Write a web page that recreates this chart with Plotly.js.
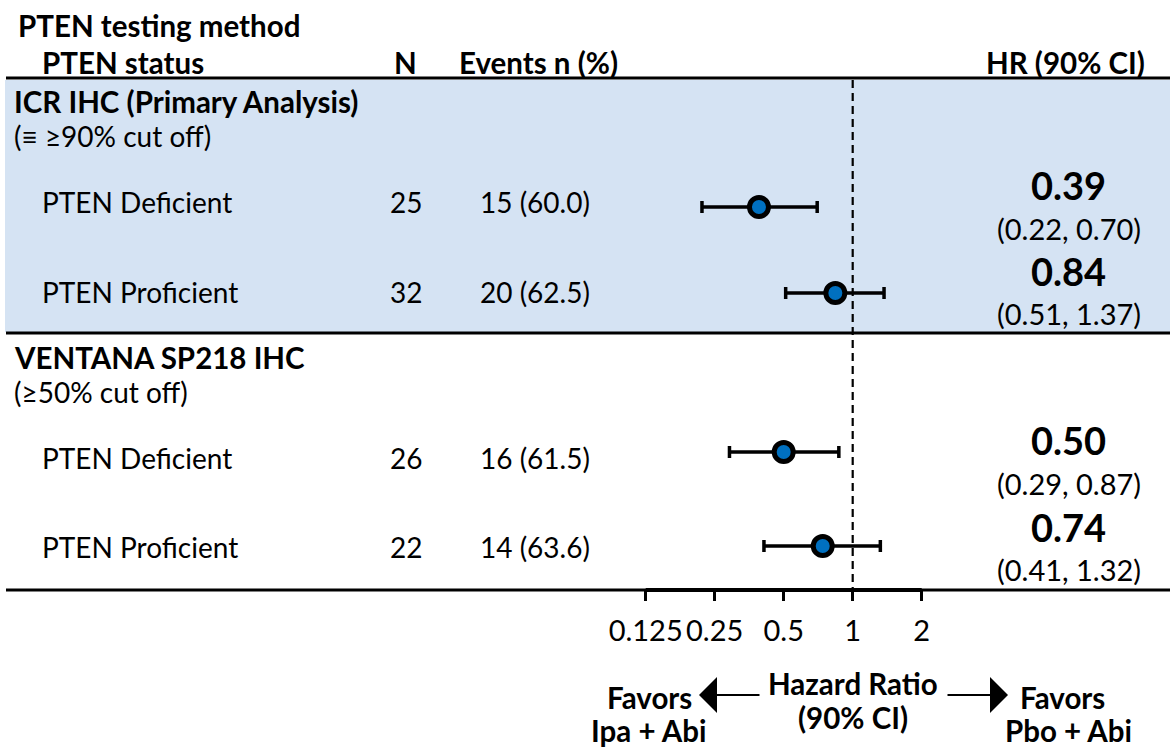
<!DOCTYPE html>
<html>
<head>
<meta charset="utf-8">
<script src="https://cdn.plot.ly/plotly-3.0.1.min.js"></script>
<style>html,body{margin:0;padding:0;background:#fff;}#chart{width:1170px;height:748px;}</style>
</head>
<body>
<div id="chart"></div>
<script>
// ---- data ----
var methods = ["ICR IHC (Primary Analysis)", "VENTANA SP218 IHC"];
var methodNotes = ["(\u2261 \u226590% cut off)", "(\u226550% cut off)"];
var statuses = ["PTEN Deficient", "PTEN Proficient", "PTEN Deficient", "PTEN Proficient"];
var nValues = [25, 32, 26, 22];
var events = [15, 20, 16, 14];
var eventPct = ["60.0", "62.5", "61.5", "63.6"];
var hr = [0.39, 0.84, 0.50, 0.74];
var ciLow = [0.22, 0.51, 0.29, 0.41];
var ciHigh = [0.70, 1.37, 0.87, 1.32];
var tickVals = [0.125, 0.25, 0.5, 1, 2];
var tickLabels = ["0.125", "0.25", "0.5", "1", "2"];

// ---- layout geometry (pixels) ----
var W = 1170, H = 748;
var FONT = "Lato, 'Open Sans', sans-serif";
var pointY = [207, 293, 452, 546];
var textY = [202, 292, 458, 547];
var hrY = [185, 271, 440, 527];
var ciY = [228, 313, 483, 569];
var methodY = [101, 357];
var noteY = [136, 392];
var pxPerDoubling = 69, onePx = 852.7;
var xr0 = -onePx / pxPerDoubling * Math.LOG10E * Math.LN2;
var xr1 = (W - onePx) / pxPerDoubling * Math.LOG10E * Math.LN2;
function P(px) { return px / W; }

var fs = 28, fb = 29.5;
var ann = [];
function txt(text, x, y, anchor, size, bold) {
  ann.push({text: bold ? "<b>" + text + "</b>" : text, xref: "paper", yref: "y", x: P(x), y: y,
    xanchor: anchor, yanchor: "middle", showarrow: false, borderpad: 0,
    font: {family: FONT, size: size, color: "#000"}});
}
txt("PTEN testing method", 17, 25, "left", fb, true);
txt("PTEN status", 41, 62, "left", fb, true);
txt("N", 405, 62, "center", fb, true);
txt("Events n (%)", 458, 62, "left", fb, true);
txt("HR (90% CI)", 1146, 62, "right", fb, true);
for (var m = 0; m < methods.length; m++) {
  txt(methods[m], 13, methodY[m], "left", fb, true);
  txt(methodNotes[m], 13, noteY[m], "left", fs, false);
}
for (var i = 0; i < statuses.length; i++) {
  txt(statuses[i], 41, textY[i], "left", fs, false);
  txt(String(nValues[i]), 406, textY[i], "center", fs, false);
  txt(events[i] + " (" + eventPct[i] + ")", 479, textY[i], "left", fs, false);
  txt(hr[i].toFixed(2), 1068, hrY[i], "center", 38, true);
  txt("(" + ciLow[i].toFixed(2) + ", " + ciHigh[i].toFixed(2) + ")", 1069, ciY[i], "center", 29, false);
}
txt("Hazard Ratio", 853, 683, "center", fb, true);
txt("(90% CI)", 853, 717, "center", fb, true);
txt("Favors", 649, 697, "center", fb, true);
txt("Ipa + Abi", 648, 730, "center", fb, true);
txt("Favors", 1062, 697, "center", fb, true);
txt("Pbo + Abi", 1068, 730, "center", fb, true);
// arrows
ann.push({text: "", xref: "paper", yref: "y", x: P(699), y: 695, ax: 62, ay: 0, axref: "pixel", ayref: "pixel",
  showarrow: true, arrowhead: 1, arrowsize: 3, arrowwidth: 2, arrowcolor: "#000"});
ann.push({text: "", xref: "paper", yref: "y", x: P(1008), y: 695, ax: -62, ay: 0, axref: "pixel", ayref: "pixel",
  showarrow: true, arrowhead: 1, arrowsize: 3, arrowwidth: 2, arrowcolor: "#000"});

var shapes = [
  {type: "rect", xref: "paper", yref: "y", x0: P(5), x1: 1, y0: 80, y1: 332, fillcolor: "#D5E3F3", line: {width: 0}, layer: "below"},
  {type: "line", xref: "paper", yref: "y", x0: P(6), x1: 1, y0: 78, y1: 78, line: {color: "#000", width: 3}},
  {type: "line", xref: "paper", yref: "y", x0: P(6), x1: 1, y0: 333, y1: 333, line: {color: "#000", width: 3}},
  {type: "line", xref: "paper", yref: "y", x0: P(6), x1: 1, y0: 590, y1: 590, line: {color: "#000", width: 3}},
  {type: "line", xref: "x", yref: "y", x0: tickVals[0], x1: tickVals[tickVals.length - 1], y0: 590, y1: 590, line: {color: "#000", width: 4}},
  {type: "line", xref: "x", yref: "y", x0: 1, x1: 1, y0: 80, y1: 590, line: {color: "#000", width: 2.2, dash: "8px,5px"}, layer: "below"}
];

var trace = {
  type: "scatter", mode: "markers", x: hr, y: pointY,
  marker: {size: 19, color: "#0070C0", line: {color: "#000", width: 5}},
  error_x: {type: "data", symmetric: false,
    array: hr.map(function (v, k) { return ciHigh[k] - v; }),
    arrayminus: hr.map(function (v, k) { return v - ciLow[k]; }),
    color: "#000", thickness: 3.5, width: 6},
  hoverinfo: "skip", showlegend: false
};

var layout = {
  width: W, height: H, margin: {l: 0, r: 0, t: 0, b: 0},
  paper_bgcolor: "#fff", plot_bgcolor: "rgba(0,0,0,0)",
  xaxis: {type: "log", range: [xr0, xr1], domain: [0, 1], anchor: "free", position: 1 - 590 / H,
    tickmode: "array", tickvals: tickVals, ticktext: tickLabels,
    ticks: "outside", ticklen: 10, tickwidth: 2.5, tickcolor: "#000", ticklabelstandoff: 5,
    showline: false, showgrid: false, zeroline: false,
    tickfont: {family: FONT, size: 29, color: "#000"}, fixedrange: true},
  yaxis: {range: [H, 0], domain: [0, 1], visible: false, fixedrange: true},
  shapes: shapes, annotations: ann, showlegend: false,
  font: {family: FONT}
};
Plotly.newPlot("chart", [trace], layout, {displayModeBar: false, staticPlot: true});
</script>
</body>
</html>
